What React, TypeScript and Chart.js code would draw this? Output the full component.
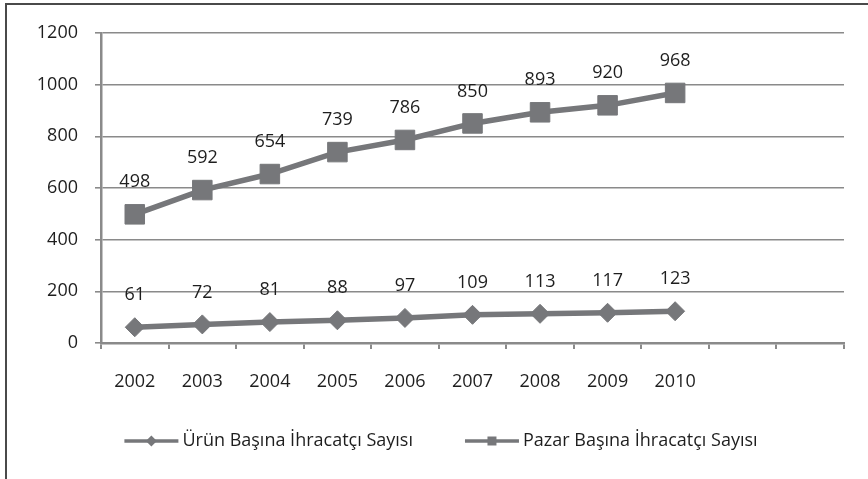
import React, { useEffect, useRef } from "react";
import { Chart, registerables } from "chart.js";

Chart.register(...registerables);

const categories = ["2002", "2003", "2004", "2005", "2006", "2007", "2008", "2009", "2010", "", ""];
const urunValues = [61, 72, 81, 88, 97, 109, 113, 117, 123, null, null];
const pazarValues = [498, 592, 654, 739, 786, 850, 893, 920, 968, null, null];
const seriesNames = ["Ürün Başına İhracatçı Sayısı", "Pazar Başına İhracatçı Sayısı"];
const yMin = 0;
const yMax = 1200;
const yStep = 200;

const FONT = '"Open Sans", "Noto Sans", sans-serif';
const FONT_SIZE = 18;
const TEXT_COLOR = "#1e1e1e";
const SERIES_COLOR = "#76777a";
const GRID_COLOR = "#8a8a8a";

const dataLabelPlugin = {
  id: "dataLabels",
  afterDatasetsDraw(chart: any) {
    const ctx = chart.ctx;
    ctx.save();
    ctx.font = `${FONT_SIZE}px ${FONT}`;
    ctx.fillStyle = TEXT_COLOR;
    ctx.textAlign = "center";
    ctx.textBaseline = "middle";
    chart.data.datasets.forEach((ds: any, i: number) => {
      const meta = chart.getDatasetMeta(i);
      meta.data.forEach((pt: any, j: number) => {
        const v = ds.data[j];
        if (v == null) return;
        ctx.fillText(String(v), pt.x, pt.y - 32);
      });
    });
    ctx.restore();
  },
};

const framePlugin = {
  id: "frame",
  beforeDraw(chart: any) {
    const ctx = chart.ctx;
    ctx.save();
    ctx.fillStyle = "#ffffff";
    ctx.fillRect(0, 0, chart.width, chart.height);
    ctx.strokeStyle = "#4a4a4a";
    ctx.lineWidth = 2;
    ctx.beginPath();
    ctx.moveTo(6, chart.height + 2);
    ctx.lineTo(6, 4);
    ctx.lineTo(chart.width + 2, 4);
    ctx.stroke();
    ctx.restore();
  },
};

const legendPlugin = {
  id: "customLegend",
  afterDraw(chart: any) {
    const ctx = chart.ctx;
    ctx.save();
    ctx.font = `${FONT_SIZE}px ${FONT}`;
    const lineLen = 54;
    const gapText = 4;
    const itemGap = 52;
    const widths = seriesNames.map((n) => ctx.measureText(n).width);
    const total = widths.reduce((a, w) => a + lineLen + gapText + w, 0) + itemGap;
    let x = chart.width / 2 + 7 - total / 2;
    const y = 441;
    seriesNames.forEach((name, i) => {
      ctx.strokeStyle = SERIES_COLOR;
      ctx.lineWidth = 3.5;
      ctx.beginPath();
      ctx.moveTo(x, y);
      ctx.lineTo(x + lineLen, y);
      ctx.stroke();
      const cx = x + lineLen / 2;
      ctx.fillStyle = SERIES_COLOR;
      ctx.beginPath();
      if (i === 0) {
        const r = 5.5;
        ctx.moveTo(cx - r, y);
        ctx.lineTo(cx, y - r);
        ctx.lineTo(cx + r, y);
        ctx.lineTo(cx, y + r);
        ctx.closePath();
      } else {
        const s = 9;
        ctx.rect(cx - s / 2, y - s / 2, s, s);
      }
      ctx.fill();
      ctx.fillStyle = TEXT_COLOR;
      ctx.textAlign = "left";
      ctx.textBaseline = "middle";
      ctx.fillText(name, x + lineLen + gapText, y);
      x += lineLen + gapText + widths[i] + itemGap;
    });
    ctx.restore();
  },
};

export default function App() {
  const canvasRef = useRef<HTMLCanvasElement | null>(null);

  useEffect(() => {
    document.body.style.margin = "0";
    const canvas = canvasRef.current;
    if (!canvas) return;
    const chart = new Chart(canvas, {
      type: "line",
      data: {
        labels: categories,
        datasets: [
          {
            label: seriesNames[0],
            data: urunValues,
            borderColor: SERIES_COLOR,
            backgroundColor: SERIES_COLOR,
            borderWidth: 5.5,
            pointStyle: "rectRot",
            pointRadius: 9.5,
            pointBorderWidth: 1,
            pointBackgroundColor: SERIES_COLOR,
            pointBorderColor: SERIES_COLOR,
            tension: 0,
            fill: false,
          },
          {
            label: seriesNames[1],
            data: pazarValues,
            borderColor: SERIES_COLOR,
            backgroundColor: SERIES_COLOR,
            borderWidth: 5.5,
            pointStyle: "rect",
            pointRadius: 13.8,
            pointBorderWidth: 1,
            pointBackgroundColor: SERIES_COLOR,
            pointBorderColor: SERIES_COLOR,
            tension: 0,
            fill: false,
          },
        ],
      },
      options: {
        responsive: false,
        animation: false,
        layout: { padding: { top: 33, right: 24, left: 0, bottom: 0 } },
        plugins: {
          legend: { display: false },
          tooltip: { enabled: false },
        },
        scales: {
          x: {
            type: "category",
            offset: true,
            grid: {
              display: true,
              drawOnChartArea: false,
              offset: true,
              tickLength: 6,
              color: GRID_COLOR,
              lineWidth: 2,
            },
            border: { display: true, color: GRID_COLOR, width: 2.5 },
            ticks: {
              autoSkip: false,
              maxRotation: 0,
              padding: 22,
              color: TEXT_COLOR,
              font: { family: FONT, size: FONT_SIZE },
            },
            afterFit(scale: any) {
              scale.height = 136;
            },
          },
          y: {
            min: yMin,
            max: yMax,
            ticks: {
              stepSize: yStep,
              padding: 17,
              color: TEXT_COLOR,
              font: { family: FONT, size: FONT_SIZE },
              callback: (v: any) => String(v),
            },
            grid: {
              color: GRID_COLOR,
              lineWidth: 1.6,
              tickLength: 6,
            },
            border: { display: true, color: GRID_COLOR, width: 2.5 },
            afterFit(scale: any) {
              scale.width = 101;
            },
          },
        },
      },
      plugins: [framePlugin, dataLabelPlugin, legendPlugin],
    });
    return () => chart.destroy();
  }, []);

  return (
    <div style={{ width: 868, height: 479 }}>
      <canvas ref={canvasRef} width={868} height={479} style={{ display: "block" }} />
    </div>
  );
}
